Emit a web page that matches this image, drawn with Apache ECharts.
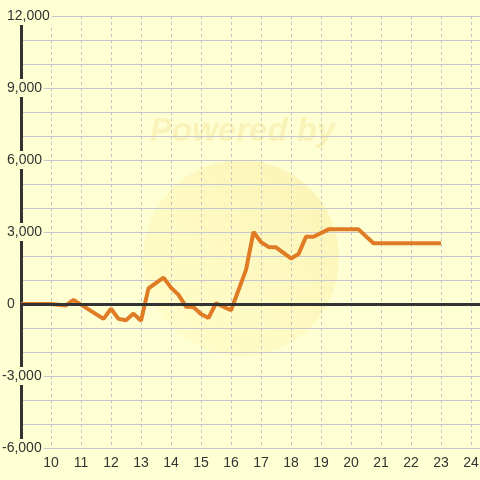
<!DOCTYPE html>
<html>
<head>
<meta charset="utf-8">
<script src="https://cdn.jsdelivr.net/npm/echarts@6/dist/echarts.min.js"></script>
<style>html,body{margin:0;padding:0;background:#ffffd4;}#c{width:480px;height:480px;}</style>
</head>
<body>
<div id="c"></div>
<script>
// hours (x) and values (y)
const hours = [9, 10, 10.5, 10.75, 11.75, 12, 12.25, 12.5, 12.75, 13, 13.25, 13.75, 14, 14.25, 14.5, 14.75, 15, 15.25, 15.5, 16, 16.5, 16.75, 17, 17.25, 17.5, 18, 18.25, 18.5, 18.75, 19.25, 20.25, 20.75, 23];
const values = [0, 0, -60, 170, -620, -200, -620, -680, -400, -700, 650, 1100, 680, 380, -110, -130, -420, -580, 30, -260, 1420, 3000, 2580, 2380, 2360, 1900, 2080, 2800, 2800, 3110, 3110, 2530, 2530];
const yTicks = [-6000, -3000, 0, 3000, 6000, 9000, 12000];
const xTicks = [10, 11, 12, 13, 14, 15, 16, 17, 18, 19, 20, 21, 22, 23, 24];

const chart = echarts.init(document.getElementById('c'));
const fmt = v => v.toLocaleString('en-US');
const FONT = 'Liberation Sans, Arial, sans-serif';
chart.setOption({
  backgroundColor: '#ffffd4',
  animation: false,
  textStyle: { fontFamily: FONT },
  graphic: [
    {
      type: 'circle', z: -10, silent: true,
      shape: { cx: 241, cy: 258, r: 98 },
      style: {
        fill: new echarts.graphic.LinearGradient(1, 0, 0, 1, [
          { offset: 0, color: 'rgba(240,215,110,0.30)' },
          { offset: 1, color: 'rgba(255,240,140,0.14)' }
        ])
      }
    },
    {
      type: 'text', z: -10, silent: true,
      left: 150, top: 115,
      style: {
        text: 'Powered by',
        font: 'italic bold 33px ' + FONT,
        fill: 'rgba(235,210,110,0.26)'
      }
    }
  ],
  grid: { left: 21, right: 0, top: 16, bottom: 32, containLabel: false, outerBoundsMode: 'none' },
  xAxis: {
    type: 'value', min: 9, max: 24.3, interval: 1,
    axisLine: { show: false },
    axisTick: { show: false },
    axisLabel: {
      color: '#333', fontSize: 14, margin: 8,
      showMinLabel: false, showMaxLabel: false,
      formatter: v => xTicks.includes(v) ? String(v) : ''
    },
    splitLine: { show: true, lineStyle: { color: '#c4c4c4', width: 1, type: [3, 3] } }
  },
  yAxis: {
    type: 'value', min: -6000, max: 12000, interval: 1000,
    axisLine: { show: true, lineStyle: { color: '#333', width: 3 } },
    axisTick: { show: false },
    splitLine: { show: true, lineStyle: { color: '#c6c6cc', width: 1 } },
    axisLabel: {
      margin: 21, align: 'left',
      formatter: v => yTicks.includes(v) ? (v < 0 ? '{n|' + fmt(v) + '}' : '{p|' + fmt(v) + '}') : '',
      rich: {
        n: { color: '#333', fontSize: 14, fontFamily: FONT, backgroundColor: '#ffffd4', padding: [2, 2, 2, 2] },
        p: { color: '#333', fontSize: 14, fontFamily: FONT, backgroundColor: '#ffffd4', padding: [2, 2, 2, 7] }
      }
    }
  },
  series: [{
    type: 'line',
    data: hours.map((h, i) => [h, values[i]]),
    symbol: 'none',
    lineStyle: { color: '#e07b25', width: 4 },
    itemStyle: { color: '#e07b25' },
    markLine: {
      silent: true, symbol: 'none',
      label: { show: false },
      lineStyle: { color: '#333', width: 3, type: 'solid' },
      data: [{ yAxis: 0 }]
    },
    z: 3
  }]
});
</script>
</body>
</html>
